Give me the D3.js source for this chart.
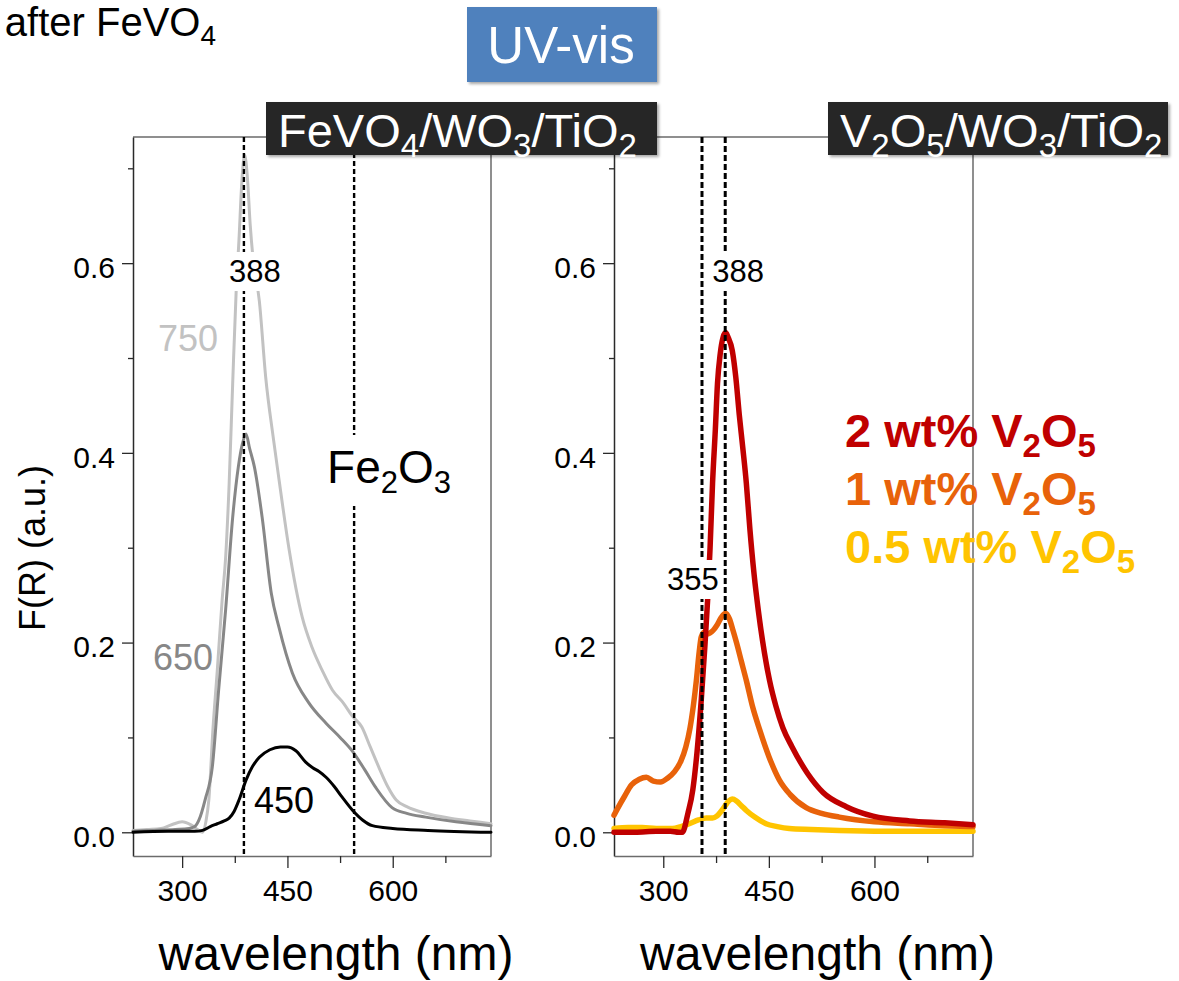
<!DOCTYPE html>
<html>
<head>
<meta charset="utf-8">
<script src="https://cdn.jsdelivr.net/npm/d3@7"></script>
<style>
  html, body { margin: 0; padding: 0; background: #fff; overflow: hidden; }
  svg { display: block; font-family: "Liberation Sans", Arial, sans-serif; }
</style>
</head>
<body>
<svg id="chart" width="1179" height="981"></svg>
<script>
// ---- Data ---------------------------------------------------------------
// FeVO4/WO3/TiO2 calcined at 750, 650 and 450 °C
const wl750 = [230, 250, 270, 285, 300, 312, 322, 329, 334, 338, 344, 350, 357, 362, 367, 372, 377, 381, 385, 389, 393, 397, 401, 410, 419, 430, 438, 452, 471, 485, 500, 514, 530, 542, 556, 568, 580, 593, 605, 620, 647, 680, 710, 740];
const fr750 = [0.002, 0.003, 0.004, 0.008, 0.011, 0.008, 0.003, 0.000, 0.012, 0.034, 0.110, 0.170, 0.245, 0.290, 0.368, 0.473, 0.571, 0.625, 0.685, 0.714, 0.690, 0.640, 0.605, 0.560, 0.480, 0.415, 0.372, 0.300, 0.227, 0.195, 0.170, 0.150, 0.136, 0.123, 0.111, 0.090, 0.069, 0.048, 0.034, 0.027, 0.020, 0.015, 0.012, 0.009];

const wl650 = [230, 260, 290, 310, 318, 324, 333, 343, 352, 362, 372, 380, 386, 391, 396, 403, 414, 427, 438, 457, 480, 505, 525, 542, 560, 576, 599, 620, 647, 690, 740];
const fr650 = [0.001, 0.002, 0.003, 0.004, 0.006, 0.013, 0.035, 0.069, 0.150, 0.235, 0.332, 0.385, 0.410, 0.420, 0.405, 0.385, 0.332, 0.252, 0.216, 0.168, 0.137, 0.115, 0.100, 0.086, 0.066, 0.047, 0.026, 0.020, 0.016, 0.011, 0.007];

const wl450 = [230, 280, 300, 318, 329, 340, 350, 360, 367, 374, 381, 391, 400, 410, 425, 440, 450, 462, 476, 486, 495, 505, 517, 528, 543, 557, 571, 600, 650, 740];
const fr450 = [0.000, 0.001, 0.001, 0.001, 0.002, 0.006, 0.009, 0.012, 0.015, 0.022, 0.034, 0.055, 0.069, 0.079, 0.087, 0.090, 0.090, 0.086, 0.074, 0.068, 0.064, 0.058, 0.048, 0.037, 0.023, 0.013, 0.007, 0.004, 0.002, 0.000];

// V2O5/WO3/TiO2 with 2, 1 and 0.5 wt% V2O5
const wlV2 = [230, 260, 290, 310, 322, 327, 335, 342, 348, 354, 359, 363, 366.5, 370, 374, 377, 381, 385, 388.5, 392, 398, 403, 408, 413, 418, 423, 429, 435, 441, 451, 460, 470, 483, 505, 527, 560, 598, 650, 700, 740];
const frV2 = [0.000, 0.000, 0.001, 0.001, 0.000, 0.000, 0.020, 0.045, 0.085, 0.140, 0.195, 0.245, 0.300, 0.368, 0.425, 0.473, 0.505, 0.522, 0.527, 0.522, 0.508, 0.480, 0.440, 0.405, 0.368, 0.320, 0.272, 0.234, 0.202, 0.160, 0.133, 0.110, 0.090, 0.062, 0.042, 0.027, 0.017, 0.012, 0.010, 0.008];

const wlV1 = [230, 235, 245, 255, 266, 276, 286, 296, 306, 316, 325, 332, 338, 343, 347, 351, 354, 358, 362, 366, 371, 376, 382, 388.5, 394, 399, 404, 411, 418, 427, 437, 450, 465, 480, 503, 525, 550, 600, 650, 700, 740];
const frV1 = [0.018, 0.025, 0.038, 0.050, 0.056, 0.058, 0.054, 0.053, 0.057, 0.064, 0.075, 0.090, 0.110, 0.135, 0.160, 0.190, 0.206, 0.211, 0.209, 0.210, 0.213, 0.218, 0.226, 0.231, 0.225, 0.213, 0.200, 0.180, 0.160, 0.132, 0.108, 0.080, 0.055, 0.040, 0.026, 0.020, 0.016, 0.011, 0.009, 0.007, 0.006];

const wlV05 = [230, 250, 270, 290, 313, 325, 337, 350, 361, 370, 376, 382, 387, 393, 398, 404, 411, 418, 430, 446, 462, 479, 510, 550, 650, 740];
const frV05 = [0.004, 0.005, 0.005, 0.004, 0.004, 0.006, 0.009, 0.013, 0.015, 0.015, 0.017, 0.022, 0.027, 0.033, 0.035, 0.033, 0.028, 0.023, 0.016, 0.009, 0.006, 0.004, 0.003, 0.002, 0.001, 0.001];

// Axis ticks
const xMajorTicks = [300, 450, 600];
const xMinorTicks = [375, 525, 675];
const yMajorTicks = [0.0, 0.2, 0.4, 0.6];
const yMinorTicks = [0.1, 0.3, 0.5, 0.7];

// Marked absorption edges (nm)
const leftMarks = [388, 545];
const rightMarks = [355, 388];

// Legend entries for the V2O5 series
const legendLoad = ["2", "1", "0.5"];

// ---- Layout -------------------------------------------------------------
const svg = d3.select("#chart");
const FONT = '"Liberation Sans", Arial, sans-serif';
const plotTop = 137, plotBottom = 856;
const xDomain = [230, 740], yDomain = [-0.025, 0.733];

const defs = svg.append("defs");
const shadow = defs.append("filter").attr("id", "soft").attr("x", "-10%").attr("y", "-20%").attr("width", "120%").attr("height", "150%");
shadow.append("feGaussianBlur").attr("in", "SourceAlpha").attr("stdDeviation", 1.6).attr("result", "b");
shadow.append("feOffset").attr("in", "b").attr("dx", 1.5).attr("dy", 2).attr("result", "o");
shadow.append("feComponentTransfer").attr("in", "o").attr("result", "s")
  .append("feFuncA").attr("type", "linear").attr("slope", 0.35);
const merge = shadow.append("feMerge");
merge.append("feMergeNode").attr("in", "s");
merge.append("feMergeNode").attr("in", "SourceGraphic");

// text with sub-scripts: parts = [[string, isSub], ...]
function richText(sel, parts, size, subSize, subShift) {
  let shifted = false;
  parts.forEach(([s, sub]) => {
    const t = sel.append("tspan").text(s);
    if (sub) {
      t.attr("font-size", subSize).attr("dy", shifted ? 0 : subShift);
      shifted = true;
    } else {
      t.attr("font-size", size).attr("dy", shifted ? -subShift : 0);
      shifted = false;
    }
  });
  return sel;
}

function makePanel(x0, x1) {
  const x = d3.scaleLinear().domain(xDomain).range([x0, x1]);
  const y = d3.scaleLinear().domain(yDomain).range([plotBottom, plotTop]);
  const g = svg.append("g");

  // frame (top and right)
  g.append("path")
    .attr("d", `M${x0},${plotTop}H${x1}V${plotBottom}`)
    .attr("fill", "none").attr("stroke", "#6b6b6b").attr("stroke-width", 1.5);

  // y axis
  const ya = g.append("g").attr("transform", `translate(${x0},0)`)
    .call(d3.axisLeft(y).tickValues(yMajorTicks).tickFormat(d3.format(".1f"))
      .tickSize(11).tickSizeOuter(0).tickPadding(7));
  ya.select(".domain").attr("stroke", "#2a2a2a").attr("stroke-width", 1.5);
  ya.selectAll(".tick line").attr("stroke", "#2a2a2a").attr("stroke-width", 1.3);
  ya.selectAll(".tick text").attr("font-family", FONT).attr("font-size", 30).attr("fill", "#000").attr("dy", "0.48em");
  const yb = g.append("g").attr("transform", `translate(${x0},0)`)
    .call(d3.axisLeft(y).tickValues(yMinorTicks).tickFormat("").tickSize(5).tickSizeOuter(0));
  yb.select(".domain").remove();
  yb.selectAll(".tick line").attr("stroke", "#2a2a2a").attr("stroke-width", 1.3);

  // x axis
  const xa = g.append("g").attr("transform", `translate(0,${plotBottom})`)
    .call(d3.axisBottom(x).tickValues(xMajorTicks).tickFormat(d3.format("d"))
      .tickSize(12).tickSizeOuter(0).tickPadding(12));
  xa.select(".domain").attr("stroke", "#6b6b6b").attr("stroke-width", 1.5);
  xa.selectAll(".tick line").attr("stroke", "#2a2a2a").attr("stroke-width", 1.3);
  xa.selectAll(".tick text").attr("font-family", FONT).attr("font-size", 30).attr("fill", "#000");
  const xb = g.append("g").attr("transform", `translate(0,${plotBottom})`)
    .call(d3.axisBottom(x).tickValues(xMinorTicks).tickFormat("").tickSize(7).tickSizeOuter(0));
  xb.select(".domain").remove();
  xb.selectAll(".tick line").attr("stroke", "#2a2a2a").attr("stroke-width", 1.3);

  // x title
  g.append("text").attr("x", (x0 + x1) / 2 + 24).attr("y", 970)
    .attr("text-anchor", "middle").attr("font-size", 48).attr("fill", "#000")
    .text("wavelength (nm)");

  return { g, x, y };
}

function drawSeries(p, wls, vals, color, width) {
  const pts = wls.map((w, i) => [w, vals[i]]);
  const line = d3.line().x(d => p.x(d[0])).y(d => p.y(d[1])).curve(d3.curveMonotoneX);
  p.g.append("path").datum(pts).attr("d", line)
    .attr("fill", "none").attr("stroke", color).attr("stroke-width", width)
    .attr("stroke-linejoin", "round").attr("stroke-linecap", "round");
}

function drawMark(p, w, width, dash) {
  p.g.append("line").attr("x1", p.x(w)).attr("x2", p.x(w)).attr("y1", plotTop).attr("y2", plotBottom)
    .attr("stroke", "#000").attr("stroke-width", width).attr("stroke-dasharray", dash);
}

function boxedLabel(p, tx, ty, parts, size, subSize, subShift, anchor, padX, padY) {
  const grp = p.g.append("g");
  const rect = grp.append("rect").attr("fill", "#fff");
  const t = grp.append("text").attr("x", tx).attr("y", ty).attr("text-anchor", anchor)
    .attr("fill", "#000").attr("font-family", FONT);
  richText(t, parts, size, subSize, subShift);
  const bb = t.node().getBBox();
  rect.attr("x", bb.x - padX).attr("y", bb.y - padY)
    .attr("width", bb.width + 2 * padX).attr("height", bb.height + 2 * padY);
}

// ---- Left panel: FeVO4/WO3/TiO2 -----------------------------------------
const L = makePanel(133, 491);
drawSeries(L, wl750, fr750, "#c2c2c2", 3);
drawSeries(L, wl650, fr650, "#878787", 3);
drawSeries(L, wl450, fr450, "#000000", 3);
leftMarks.forEach(w => drawMark(L, w, 2.4, "5,3"));

boxedLabel(L, L.x(leftMarks[0]) + 11, 282, [["388", false]], 31, 20, 0, "middle", 3, 2);
boxedLabel(L, L.x(leftMarks[1]) - 27, 483, [["Fe", false], ["2", true], ["O", false], ["3", true]], 46, 31, 10, "start", 4, 6);

L.g.append("text").attr("x", 158).attr("y", 351).attr("font-size", 36).attr("fill", "#c2c2c2").text("750");
L.g.append("text").attr("x", 153).attr("y", 670).attr("font-size", 36).attr("fill", "#878787").text("650");
L.g.append("text").attr("x", 254).attr("y", 813).attr("font-size", 36).attr("fill", "#000").text("450");

// ---- Right panel: V2O5/WO3/TiO2 -----------------------------------------
const R = makePanel(614, 973);
drawSeries(R, wlV05, frV05, "#ffc400", 5.5);
drawSeries(R, wlV1, frV1, "#e8620a", 5.5);
drawSeries(R, wlV2, frV2, "#c00000", 5.5);
rightMarks.forEach(w => drawMark(R, w, 3, "6,3"));

boxedLabel(R, R.x(rightMarks[0]) - 9, 590, [["355", false]], 31, 20, 0, "middle", 2, 2);
boxedLabel(R, R.x(rightMarks[1]) + 13, 282, [["388", false]], 31, 20, 0, "middle", 2, 2);

// legend
const legendColors = ["#c00000", "#e8620a", "#ffc400"];
legendLoad.forEach((v, i) => {
  const t = svg.append("text").attr("x", 845).attr("y", 447 + i * 58)
    .attr("font-weight", "bold").attr("fill", legendColors[i]);
  richText(t, [[v + " wt% V", false], ["2", true], ["O", false], ["5", true]], 47, 33, 10);
});

// ---- Titles ---------------------------------------------------------------
// y axis title
svg.append("text").attr("transform", "translate(45,548) rotate(-90)")
  .attr("text-anchor", "middle").attr("font-size", 36).attr("fill", "#000")
  .text("F(R) (a.u.)");

// panel headers
function header(x0, x1, tx, parts) {
  svg.append("rect").attr("x", x0).attr("y", 102).attr("width", x1 - x0).attr("height", 53)
    .attr("fill", "#262626").attr("filter", "url(#soft)");
  const t = svg.append("text").attr("x", tx).attr("y", 147).attr("fill", "#fff");
  richText(t, parts, 47, 33, 10);
}
header(266, 657, 278, [["FeVO", false], ["4", true], ["/WO", false], ["3", true], ["/TiO", false], ["2", true]]);
header(828, 1168, 840, [["V", false], ["2", true], ["O", false], ["5", true], ["/WO", false], ["3", true], ["/TiO", false], ["2", true]]);

// technique tag
svg.append("rect").attr("x", 467).attr("y", 7).attr("width", 190).attr("height", 75)
  .attr("fill", "#4f81bd").attr("filter", "url(#soft)");
svg.append("text").attr("x", 561).attr("y", 63).attr("text-anchor", "middle")
  .attr("font-size", 51).attr("fill", "#fff").text("UV-vis");

// caption fragment at the top left
const cap = svg.append("text").attr("x", 216).attr("y", 36).attr("text-anchor", "end").attr("fill", "#000");
richText(cap, [["after FeVO", false], ["4", true]], 40, 28, 9);
</script>
</body>
</html>
